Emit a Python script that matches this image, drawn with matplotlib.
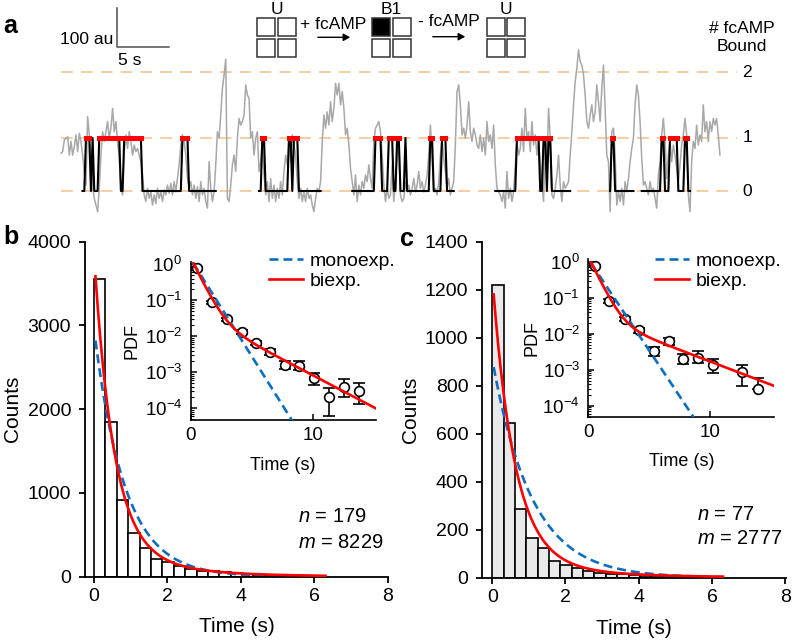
import numpy as np
import matplotlib
matplotlib.use("Agg")
import matplotlib.pyplot as plt
from matplotlib.patches import Rectangle
from matplotlib.lines import Line2D
from matplotlib.ticker import LogLocator, NullFormatter

plt.rcParams['font.family'] = ['Liberation Sans', 'DejaVu Sans']
plt.rcParams['mathtext.fontset'] = 'custom'
plt.rcParams['mathtext.rm'] = 'Liberation Sans'
plt.rcParams['mathtext.it'] = 'Liberation Sans:italic'
plt.rcParams['mathtext.bf'] = 'Liberation Sans:bold'

## ---- panel a: single-molecule trace ----
DT = 0.16                      # s per frame
LEVELS = [0, 136, 304]         # au, states 0 / 1 / 2 fcAMP bound
TRACE = [
    97, 101, 131, 135, 139, 92, 127, 92, 114, 144,
    101, 148, 127, 92, 50, 15, 191, 144, 84, 11,
    -19, -36, -53, 7, 92, 152, 127, 152, 178, 135,
    161, 212, 152, 178, 127, 84, 11, -10, 101, 144,
    109, 152, 127, 92, 118, 101, 109, 92, 75, 41,
    -10, -27, 7, -19, -2, -36, -10, -32, 7, -19,
    -2, -27, 3, -10, 15, -6, 20, -10, 24, -2,
    32, 67, 118, 144, 127, 92, 32, 7, 24, -10,
    15, -19, 11, -27, 24, -10, 7, -27, -44, 75,
    7, -27, -2, 67, 152, 135, 195, 263, 298, 338,
    -19, -27, 15, 67, 92, 50, 135, 186, 169, 178,
    195, 272, 246, 238, 135, 152, 92, 135, 152, 50,
    75, 127, 41, -10, 24, -27, 32, -19, 15, -27,
    7, -19, 24, -10, 50, 92, 67, 127, 75, 144,
    118, 92, 24, -19, 7, -27, -2, -27, 7, -19,
    -10, -36, -53, -19, 7, -2, 24, 127, 195, 161,
    203, 169, 229, 178, 212, 276, 246, 276, 221, 255,
    212, 144, 161, 118, 58, 24, -10, 41, -27, 15,
    -10, 24, 7, 41, 24, 67, 32, 7, 127, 161,
    169, 178, 152, 92, 15, -27, 7, -19,
    -10, 67, -27, 24, 92, 135, -10, -27, -19, 24,
    -2, 15, -10, 7, 32, -2, 15, 50, 7, 24,
    -2, 15, 41, 92, 169, 92, -2, 7, -10, 24,
    92, 135, 84, 50, 7, 32, -10, 7, 24, 118,
    255, 272, 221, 144, 161, 135, 169, 229, 152, 127,
    161, 144, 118, 109, 144, 101, 135, 92, 178, 127,
    144, 109, 169, 67, 7, -2, -10, -27, -2, -44,
    50, -19, 7, -27, -2, 67, 127, 92, 109, 161,
    101, 212, 135, 152, 101, 178, 118, 144, 92, 127,
    67, 24, -27, 135, 67, 212, 135, -10, -19, 7,
    41,
    92, 15, -27, 24, 7, 15, 24, 92, 152, 221,
    280, 315, 362, 332, 323, 298, 246, 178, 161, 195,
    221, 178, 203, 272, 229, 178, 263, 323, 212, 92,
    75, -53, 152, 161, 92, -36, -2, -27, 7, -36,
    24, -2, 32, 75, 109, 135, 221, 272, 246, 178,
    84, 15, 24, 7, -10, 24, -2, 7, -19, -44,
    41, 75, 144, 186, 127, 32, 92, 127, 75, 118,
    92, 58, 24, 67, 118, 144, 186, 144, -10, -53,
    75, 127, 109, 169, 118, 144, 127, 221, 152, 178,
    127, 178, 152, 186, 169, 186, 144, 92,
]
# idealized path: (first frame, last frame, state)
IDEAL_RUNS = [
    (13, 14, 0), (15, 17, 1), (18, 18, 0), (19, 19, 1), (20, 22, 0), (23, 35, 1),
    (36, 37, 0), (38, 48, 1), (49, 72, 0), (73, 76, 1), (77, 93, 0),
    (119, 120, 0), (121, 122, 1), (123, 136, 0), (137, 138, 1), (139, 139, 0),
    (140, 142, 1), (143, 156, 0),
    (175, 188, 0), (189, 192, 1), (193, 196, 0), (197, 199, 1), (200, 201, 0),
    (202, 203, 1), (204, 206, 0), (207, 207, 1), (208, 221, 0), (222, 223, 1),
    (224, 228, 0), (229, 231, 1), (232, 236, 0),
    (261, 273, 0), (274, 287, 1), (288, 289, 0), (290, 291, 1), (292, 292, 0),
    (293, 294, 1), (295, 306, 0),
    (330, 330, 0), (331, 332, 1), (333, 344, 0),
    (349, 360, 0), (361, 362, 1), (363, 365, 0), (366, 370, 1), (371, 374, 0),
    (375, 376, 1), (377, 378, 0),
]

## ---- panels b, c: dwell time histograms ----
BW = 0.31
COUNTS_B = [3550, 1840, 913, 524, 345, 214, 179, 127, 87, 67,
            62, 50, 38, 30, 22, 16, 12, 9, 7, 5]
COUNTS_C = [1220, 646, 285, 164, 122, 70, 53, 39, 29, 21,
            17, 14, 11, 9, 7, 5, 4, 3, 2, 2]
# fits drawn on histograms (counts): mono = (A, k), bi = (A1, k1, A2, k2)
MONO_B = (2958, 1.2)
BI_B = (3464, 1.9, 386, 0.6)
MONO_C = (911, 0.93)
BI_C = (1185, 1.665, 73, 0.45)

# inset PDFs
T_B = [0.56, 1.73, 2.96, 4.19, 5.36, 6.50, 7.73, 8.88, 10.13, 11.36, 12.56, 13.79]
PDF_B = [0.776, 0.0871, 0.0295, 0.0132, 0.0066, 0.0037, 0.00158, 0.00148,
         0.00068, 0.00021, 0.00040, 0.00031]
LO_B = [0.71, 0.080, 0.026, 0.0115, 0.0057, 0.0031, 0.00123, 0.00117,
        0.00045, 0.000062, 0.00021, 0.000132]
HI_B = [0.84, 0.095, 0.033, 0.015, 0.0076, 0.0044, 0.0020, 0.0020,
        0.00093, 0.00036, 0.00065, 0.00049]
T_C = [0.55, 1.73, 3.02, 4.17, 5.43, 6.63, 7.81, 8.99, 10.27, 12.65, 13.92]
PDF_C = [0.759, 0.0813, 0.0263, 0.0123, 0.00324, 0.0063, 0.0020, 0.00209,
         0.00132, 0.00085, 0.000295]
LO_C = [0.70, 0.073, 0.023, 0.0105, 0.00234, 0.0050, 0.00145, 0.00151,
        0.00079, 0.00036, 0.000295]
HI_C = [0.82, 0.090, 0.030, 0.0145, 0.00427, 0.00776, 0.00275, 0.00339,
        0.0020, 0.00132, 0.00058]
PMONO_B = (1.43, 1.245)
PBI_B = (1.49, 1.6, 0.05, 0.41)
PMONO_C = (1.19, 1.17)
PBI_C = (1.34, 1.6, 0.033, 0.297)

BLUE = '#0a6fc2'
RED = '#ff0000'
ORANGE = '#f7c898'
GRAY = '#a8a8a8'

W, H = 793, 643
fig = plt.figure(figsize=(W / 100, H / 100), dpi=100)


def box(l, t, r, b):
    # pixel box (from top-left) -> figure fraction rect
    return [l / W, 1 - b / H, (r - l) / W, (b - t) / H]


def fp(x, y):
    return (x / W, 1 - y / H)


def mono(t, A, k):
    return A * np.exp(-k * t)


def bi(t, A1, k1, A2, k2):
    return A1 * np.exp(-k1 * t) + A2 * np.exp(-k2 * t)


## panel a
PXS, PXA = 10.4, 0.39   # px per s, px per au
ax = fig.add_axes(box(0, 0, W, 220))
ax.set_xlim(-61 / PXS, (W - 61) / PXS)
ax.set_ylim(-(220 - 191) / PXA, 191 / PXA)
ax.axis('off')

trace = np.array(TRACE, dtype=float)
t = np.arange(len(trace)) * DT
ideal = np.full(len(trace), np.nan)
for s, e, st in IDEAL_RUNS:
    ideal[s:e + 1] = LEVELS[st]
bound = np.where(ideal == LEVELS[1], ideal, np.nan)

for lv in LEVELS:
    ax.plot([0, 65], [lv, lv], color=ORANGE, lw=1.3, ls=(0, (6.5, 4.5)), zorder=1)
ax.plot(t, trace, color=GRAY, lw=1.1, zorder=2)
ax.plot(t, ideal, color='black', lw=1.5, zorder=3)
ax.plot(t, bound, color=RED, lw=3.6, solid_capstyle='projecting', zorder=4)
for i, lv in enumerate(LEVELS):
    ax.text(66.0, lv, str(i), ha='center', va='center', fontsize=12.5)
ax.text(65.5, 393, '# fcAMP\nBound', ha='center', va='center', fontsize=12.5,
        linespacing=1.25)

# scale bar
x0, y0 = 5.41, 368.5
ax.plot([x0, x0, x0 + 5], [y0 + 100, y0, y0], color='#505050', lw=1.1)
ax.text(x0 - 0.35, y0 + 21, '100 au', ha='right', va='center', fontsize=12.5)
ax.text(x0 + 0.1, y0 - 33, '5 s', ha='left', va='center', fontsize=12.5)

# subunit cartoon
def subunits(x, y, filled=()):
    cell, gap = 18, 2.6
    for r in range(2):
        for c in range(2):
            l = x + c * (cell + gap)
            tp = y + r * (cell + gap)
            fc = 'black' if (r, c) in filled else 'white'
            fig.add_artist(Rectangle(fp(l, tp + cell), cell / W, cell / H,
                                     transform=fig.transFigure, facecolor=fc,
                                     edgecolor='#333333', lw=1.1))

subunits(257.3, 18.3)
subunits(372.0, 18.3, filled=[(0, 0)])
subunits(486.7, 18.3)
fig.text(*fp(276.6, 9.5), 'U', ha='center', va='center', fontsize=12.5)
fig.text(*fp(391.3, 9.5), 'B1', ha='center', va='center', fontsize=12.5)
fig.text(*fp(506.0, 9.5), 'U', ha='center', va='center', fontsize=12.5)
fig.text(*fp(333.5, 24.5), '+ fcAMP', ha='center', va='center', fontsize=12.5)
fig.text(*fp(449.0, 22.0), '- fcAMP', ha='center', va='center', fontsize=12.5)
for xa, xb, ya in [(315, 353, 37.3), (430, 468, 36.7)]:
    fig.add_artist(matplotlib.patches.FancyArrowPatch(
        fp(xa, ya), fp(xb, ya), transform=fig.transFigure,
        arrowstyle='-|>,head_length=4,head_width=2.2', color='black', lw=1.0))


## panels b and c
def hist_panel(rect, counts, fc, ymax, ystep, xleft, fmono, fbi, nm, nm_xy):
    a = fig.add_axes(rect)
    edges = np.arange(len(counts) + 1) * BW
    a.bar(edges[:-1], counts, width=BW, align='edge', facecolor=fc,
          edgecolor='black', lw=1.2, zorder=1)
    tt = np.linspace(0.04, 6.3, 400)
    a.plot(tt, mono(tt, *fmono), color=BLUE, lw=1.9, ls=(0, (3.4, 1.9)), zorder=2)
    a.plot(tt, bi(tt, *fbi), color=RED, lw=1.9, zorder=3)
    a.set_xlim(xleft, 8.01)
    a.set_ylim(0, ymax)
    a.set_xticks([0, 2, 4, 6, 8])
    a.set_yticks(np.arange(0, ymax + 1, ystep))
    for sp in ['top', 'right']:
        a.spines[sp].set_visible(False)
    for sp in ['left', 'bottom']:
        a.spines[sp].set_linewidth(1.3)
    a.tick_params(direction='out', length=4, width=1.3, labelsize=14)
    a.tick_params(axis='y', pad=6)
    a.tick_params(axis='x', pad=4)
    a.set_xlabel('Time (s)', fontsize=15)
    a.set_ylabel('Counts', fontsize=15)
    a.xaxis.set_label_coords(0.5, -0.15)
    a.xaxis.label.set_va('center')
    a.yaxis.set_label_coords(-0.238, 0.5)
    a.yaxis.label.set_va('center')
    fig.text(*fp(*nm_xy[0]), r'$n$ = ' + str(nm[0]), ha='left', va='center', fontsize=14.5)
    fig.text(*fp(*nm_xy[1]), r'$m$ = ' + str(nm[1]), ha='left', va='center', fontsize=14.5)
    return a


def inset(rect, xmax, ylog, T, P, LO, HI, pmono, pbi, label_x, leg_xy):
    a = fig.add_axes(rect)
    a.set_yscale('log')
    P, LO, HI = np.array(P), np.array(LO), np.array(HI)
    a.errorbar(T, P, yerr=[P - LO, HI - P], fmt='o', ms=7, mfc='white',
               mec='black', mew=1.2, ecolor='black', elinewidth=1.2,
               capsize=4, capthick=1.2, zorder=2)
    t0 = pbi and 0.23
    tt = np.linspace(t0, xmax, 400)
    a.plot(tt, mono(tt, *pmono), color=BLUE, lw=1.9, ls=(0, (3.4, 1.9)), zorder=3)
    a.plot(tt, bi(tt, *pbi), color=RED, lw=1.9, zorder=4)
    a.set_xlim(0, xmax)
    a.set_ylim(10 ** ylog[0], 10 ** ylog[1])
    a.set_xticks([0, 10])
    a.yaxis.set_major_locator(LogLocator(base=10, numticks=10))
    a.yaxis.set_minor_locator(LogLocator(base=10, subs=np.arange(2, 10), numticks=10))
    a.yaxis.set_minor_formatter(NullFormatter())
    a.patch.set_alpha(0)
    for sp in ['top', 'right']:
        a.spines[sp].set_visible(False)
    for sp in ['left', 'bottom']:
        a.spines[sp].set_linewidth(1.2)
    a.tick_params(which='major', direction='in', length=4, width=1.1, labelsize=13.5)
    a.tick_params(which='minor', direction='in', length=2, width=0.8)
    a.tick_params(axis='y', which='major', pad=6)
    a.tick_params(axis='x', which='major', pad=5)
    a.set_xlabel('Time (s)', fontsize=13)
    a.set_ylabel('PDF', fontsize=13)
    a.xaxis.set_label_coords(0.5, -0.285)
    a.xaxis.label.set_va('center')
    a.yaxis.set_label_coords(label_x, 0.5)
    a.yaxis.label.set_va('center')
    handles = [Line2D([], [], color=BLUE, lw=1.9, ls=(0, (3.4, 1.9))),
               Line2D([], [], color=RED, lw=1.9)]
    a.legend(handles, ['monoexp.', 'biexp.'], loc='upper left',
             bbox_to_anchor=fp(*leg_xy), bbox_transform=fig.transFigure,
             frameon=False, fontsize=14, handlelength=1.75, handletextpad=0.35,
             labelspacing=0.12, borderpad=0, borderaxespad=0)
    return a


hist_panel(box(85, 241.7, 388.3, 576.5), COUNTS_B, 'white', 4000, 1000, -0.245,
           MONO_B, BI_B, (179, 8229), [(298, 517), (298, 542)])
inset(box(190.5, 261.7, 376, 420), 15.18, (-4.325, 0.072), T_B, PDF_B, LO_B, HI_B,
      PMONO_B, PBI_B, -0.317, (269.3, 252))

hist_panel(box(482.3, 241.7, 785.7, 577.7), COUNTS_C, '#e9e9e9', 1400, 200, -0.27,
           MONO_C, BI_C, (77, 2777), [(697, 514), (697, 539)])
inset(box(588.3, 259.3, 774.3, 416.7), 15.28, (-4.306, 0.067), T_C, PDF_C, LO_C, HI_C,
      PMONO_C, PBI_C, -0.304, (655, 252))

fig.text(*fp(10.5, 26), 'a', ha='center', va='center', fontsize=18, fontweight='bold')
fig.text(*fp(10.5, 237), 'b', ha='center', va='center', fontsize=18, fontweight='bold')
fig.text(*fp(406.5, 239), 'c', ha='center', va='center', fontsize=18, fontweight='bold')

fig.savefig('out.png', dpi=100)
